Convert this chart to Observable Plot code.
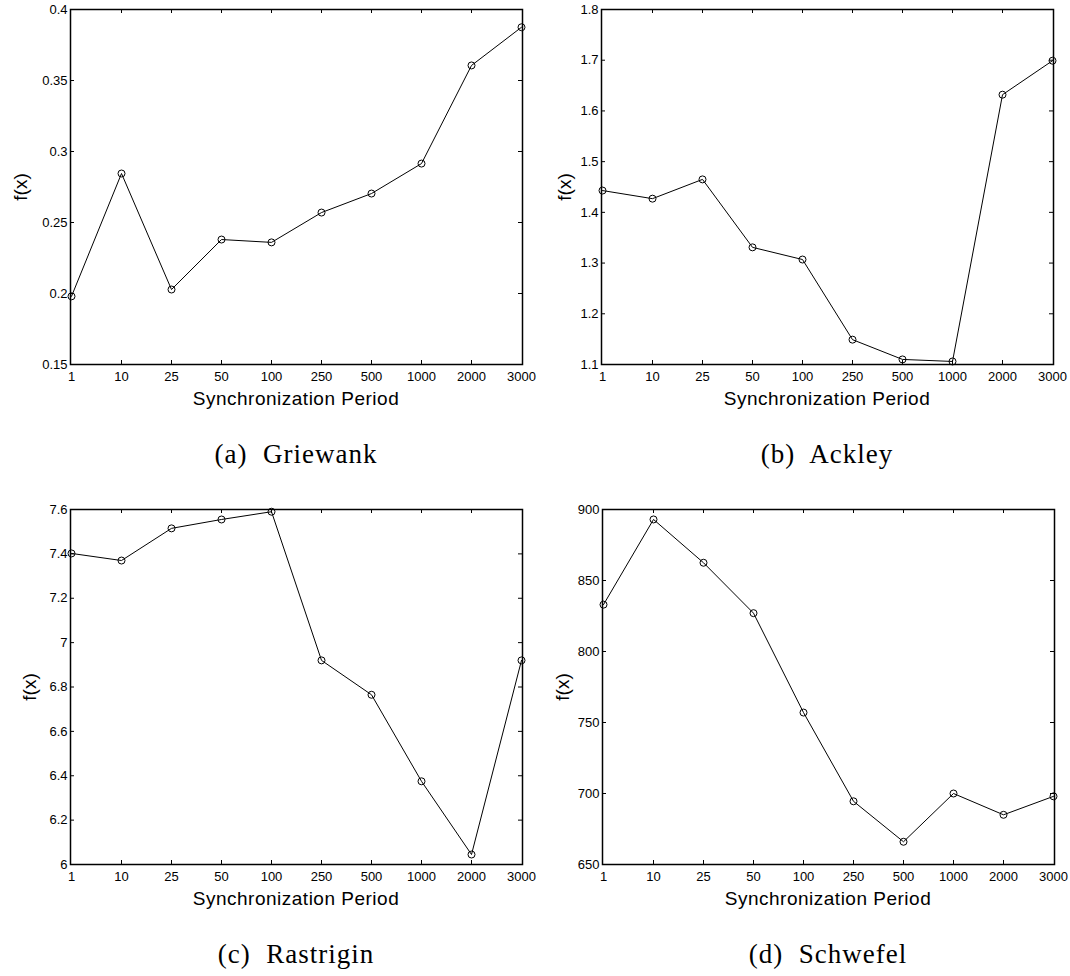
<!DOCTYPE html>
<html><head><meta charset="utf-8">
<script src="https://cdn.jsdelivr.net/npm/d3@7"></script>
<script src="https://cdn.jsdelivr.net/npm/@observablehq/plot@0.6"></script>
<style>
body{margin:0;background:#fff;}
#fig{position:relative;width:1070px;height:976px;background:#fff;font-family:"Liberation Sans",Arial,sans-serif;color:#000;}
.panel{position:absolute;width:530px;}
.xt{position:absolute;font-size:19px;line-height:19px;letter-spacing:0.5px;transform:translateX(-50%);white-space:nowrap;}
.yl{position:absolute;font-size:19px;line-height:19px;transform:translate(-50%,-50%) rotate(-90deg);white-space:nowrap;}
.cap{position:absolute;font-family:"Liberation Serif","DejaVu Serif",serif;font-size:27px;line-height:27px;letter-spacing:1px;transform:translateX(-50%);white-space:pre;}
</style></head><body><div id="fig"></div><script>
const periods = ["1","10","25","50","100","250","500","1000","2000","3000"];
const griewank = [0.198, 0.2845, 0.2028, 0.238, 0.236, 0.257, 0.2704, 0.2915, 0.3606, 0.3875];
const ackley = [1.443, 1.427, 1.465, 1.331, 1.307, 1.149, 1.110, 1.106, 1.632, 1.699];
const rastrigin = [7.402, 7.37, 7.515, 7.555, 7.59, 6.92, 6.765, 6.375, 6.045, 6.92];
const schwefel = [833, 893, 862.5, 827, 757, 694.5, 666, 700, 685, 698];
const griewankTicks = [0.15, 0.2, 0.25, 0.3, 0.35, 0.4];
const ackleyTicks = [1.1, 1.2, 1.3, 1.4, 1.5, 1.6, 1.7, 1.8];
const rastriginTicks = [6, 6.2, 6.4, 6.6, 6.8, 7, 7.2, 7.4, 7.6];
const schwefelTicks = [650, 700, 750, 800, 850, 900];
const captions = ["(a)  Griewank", "(b)  Ackley", "(c)  Rastrigin", "(d)  Schwefel"];
const xTitle = "Synchronization Period";
const yTitle = "f(x)";

const fig = document.getElementById("fig");
const FW = 452, FH = 355, TL = 4;

function panel(values, ticks, left, top, idx, ylx) {
  const data = periods.map((p, i) => ({p, v: values[i]}));
  const yDomain = [ticks[0], ticks[ticks.length - 1]];
  const inner = ticks.slice(1, -1);
  const innerX = periods.slice(1, -1);
  const chart = Plot.plot({
    width: 530, height: 384,
    marginLeft: 70, marginRight: 8, marginTop: 9, marginBottom: 20,
    style: {fontFamily: "'Liberation Sans', Arial, sans-serif", fontSize: "13px", color: "black", background: "transparent", overflow: "visible"},
    x: {type: "point", domain: periods, padding: 0},
    y: {domain: yDomain},
    marks: [
      Plot.axisX({tickSize: 0, tickPadding: 7, label: null, fontSize: 13}),
      Plot.axisY({ticks, tickSize: 0, tickPadding: 3, tickFormat: d => String(d), label: null, fontSize: 13}),
      Plot.tickX(innerX, {x: d => d, insetBottom: FH - TL, stroke: "black", strokeWidth: 1}),
      Plot.tickX(innerX, {x: d => d, insetTop: FH - TL, stroke: "black", strokeWidth: 1}),
      Plot.tickY(inner, {y: d => d, insetRight: FW - TL, stroke: "black", strokeWidth: 1}),
      Plot.tickY(inner, {y: d => d, insetLeft: FW - TL, stroke: "black", strokeWidth: 1}),
      Plot.line(data, {x: "p", y: "v", stroke: "black", strokeWidth: 1}),
      Plot.dot(data, {x: "p", y: "v", r: 3.5, stroke: "black", fill: "none", strokeWidth: 1}),
      Plot.frame({stroke: "black", strokeWidth: 1.5})
    ]
  });
  const div = document.createElement("div");
  div.className = "panel";
  div.style.left = left + "px";
  div.style.top = top + "px";
  div.appendChild(chart);
  fig.appendChild(div);
  const cx = left + 70 + FW / 2;
  const xt = document.createElement("div");
  xt.className = "xt"; xt.textContent = xTitle;
  xt.style.left = cx + "px"; xt.style.top = (top + 389) + "px";
  fig.appendChild(xt);
  const yl = document.createElement("div");
  yl.className = "yl"; yl.textContent = yTitle;
  yl.style.left = ylx + "px"; yl.style.top = (top + 9 + FH / 2) + "px";
  fig.appendChild(yl);
  const cap = document.createElement("div");
  cap.className = "cap"; cap.textContent = captions[idx];
  cap.style.left = cx + "px"; cap.style.top = (top + 441) + "px";
  fig.appendChild(cap);
}

panel(griewank, griewankTicks, 0, 0, 0, 20);
panel(ackley, ackleyTicks, 531, 0, 1, 564);
panel(rastrigin, rastriginTicks, 0, 500, 2, 29);
panel(schwefel, schwefelTicks, 532, 500, 3, 562);
</script></body></html>
